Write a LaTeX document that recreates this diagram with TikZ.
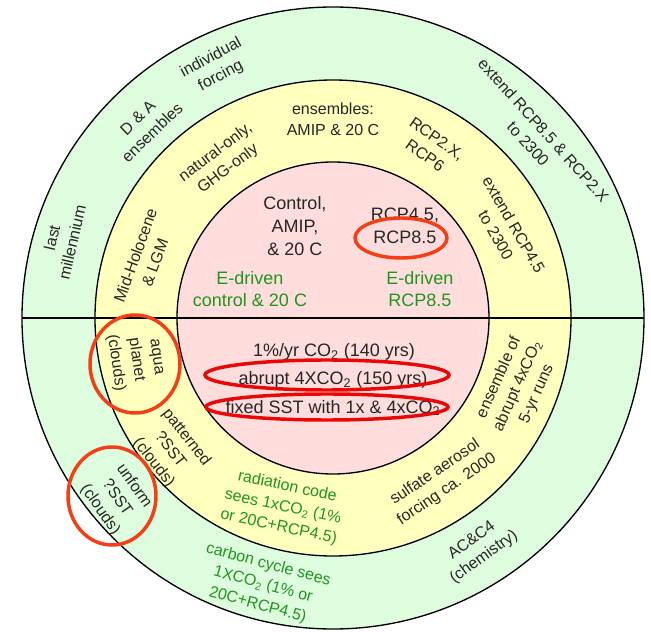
\documentclass[tikz,border=0pt]{standalone}
\usepackage{fontspec}
\setmainfont{Liberation Sans}
\usepackage{xcolor}

\definecolor{ringgreen}{RGB}{222,252,222}
\definecolor{ringyellow}{RGB}{255,255,190}
\definecolor{corepink}{RGB}{255,221,221}
\definecolor{edriven}{RGB}{30,150,30}
\definecolor{markred}{RGB}{232,8,8}
\definecolor{markorange}{RGB}{245,62,22}

\newcommand{\cotwo}{CO\textsubscript{2}}

\begin{document}
\begin{tikzpicture}[x=0.75pt,y=0.75pt,
    lbl/.style={align=center,inner sep=0pt,text=black!85,
      font=\fontsize{12}{15.5}\selectfont},
    corelbl/.style={lbl,font=\fontsize{13.5}{17}\selectfont},
    edr/.style={text=edriven},
    hoop/.style={line width=2.6pt}]

\useasboundingbox (-333,-314) rectangle (318,318);

% rings
\draw[line width=1pt, fill=ringgreen] (0,0) circle [radius=311];
\draw[line width=1pt, fill=ringyellow] (0,0) circle [radius=238];
\draw[line width=1pt, fill=corepink] (0,0) circle [radius=156];
\draw[line width=1pt] (-311,0)--(311,0);

% outer ring
\node[lbl, rotate=77] (lastmil) at (-271,78) {last\\millennium};
\node[lbl, rotate=44] (dande) at (-188,193) {D \& A\\ensembles};
\node[lbl, rotate=28] (indiv) at (-117,251) {individual\\forcing};
\node[lbl, rotate=-48] (ext85) at (203,181) {extend RCP8.5 \& RCP2.X\\to 2300};
\node[lbl, rotate=36] (chem) at (145,-231) {AC\&C4\\(chemistry)};
\node[lbl, edr, rotate=-15] (carbon) at (-70,-267) {carbon cycle sees\\1X\cotwo{} (1\% or\\20C+RCP4.5)};
\node[lbl, rotate=-55] (unif) at (-216,-180) {unform\\?SST\\(clouds)};

% middle ring
\node[lbl, rotate=70] (holo) at (-188,59) {Mid-Holocene\\\& LGM};
\node[lbl, rotate=37] (natonly) at (-111,157) {natural-only,\\GHG-only};
\node[lbl] (ens) at (0,199) {ensembles:\\AMIP \& 20 C};
\node[lbl, rotate=-35] (rcp26) at (98,171) {RCP2.X,\\RCP6};
\node[lbl, rotate=-60] (ext45) at (172,88) {extend RCP4.5\\to 2300};
\node[lbl, rotate=-82] (aqua) at (-198,-42) {aqua\\planet\\(clouds)};
\node[lbl, rotate=-52] (patt) at (-163,-132) {patterned\\?SST\\(clouds)};
\node[lbl, edr, rotate=-12] (radcode) at (-50,-189) {radiation code\\sees 1x\cotwo{} (1\%\\or 20C+RCP4.5)};
\node[lbl, rotate=34] (sulf) at (108,-163) {sulfate aerosol\\forcing ca. 2000};
\node[lbl, rotate=66] (abens) at (185,-68) {ensemble of\\abrupt 4x\cotwo\\5-yr runs};

% core
\node[corelbl] (ctrl) at (-38,92) {Control,\\AMIP,\\\& 20 C};
\node[corelbl] (rcp45) at (72,92) {RCP4.5,\\RCP8.5};
\node[corelbl, edr] (edctrl) at (-83,29) {E-driven\\control \& 20 C};
\node[corelbl, edr] (edrcp) at (87,29) {E-driven\\RCP8.5};
\node[corelbl] (onepct) at (1,-34) {1\%/yr \cotwo{} (140 yrs)};
\node[corelbl] (abrupt) at (0,-62) {abrupt 4X\cotwo{} (150 yrs)};
\node[corelbl] (fixsst) at (0,-90) {fixed SST with 1x \& 4x\cotwo};

% highlights
\draw[hoop, markorange] (68,80) ellipse [x radius=46, y radius=20];
\draw[hoop, markred] (-6,-57) ellipse [x radius=122, y radius=15];
\draw[hoop, markred] (-6,-89) ellipse [x radius=121, y radius=13];
\draw[hoop, markorange] (-198,-46) ellipse [x radius=45, y radius=49];
\draw[hoop, markorange] (-221,-178) ellipse [x radius=44, y radius=49];

\end{tikzpicture}
\end{document}
